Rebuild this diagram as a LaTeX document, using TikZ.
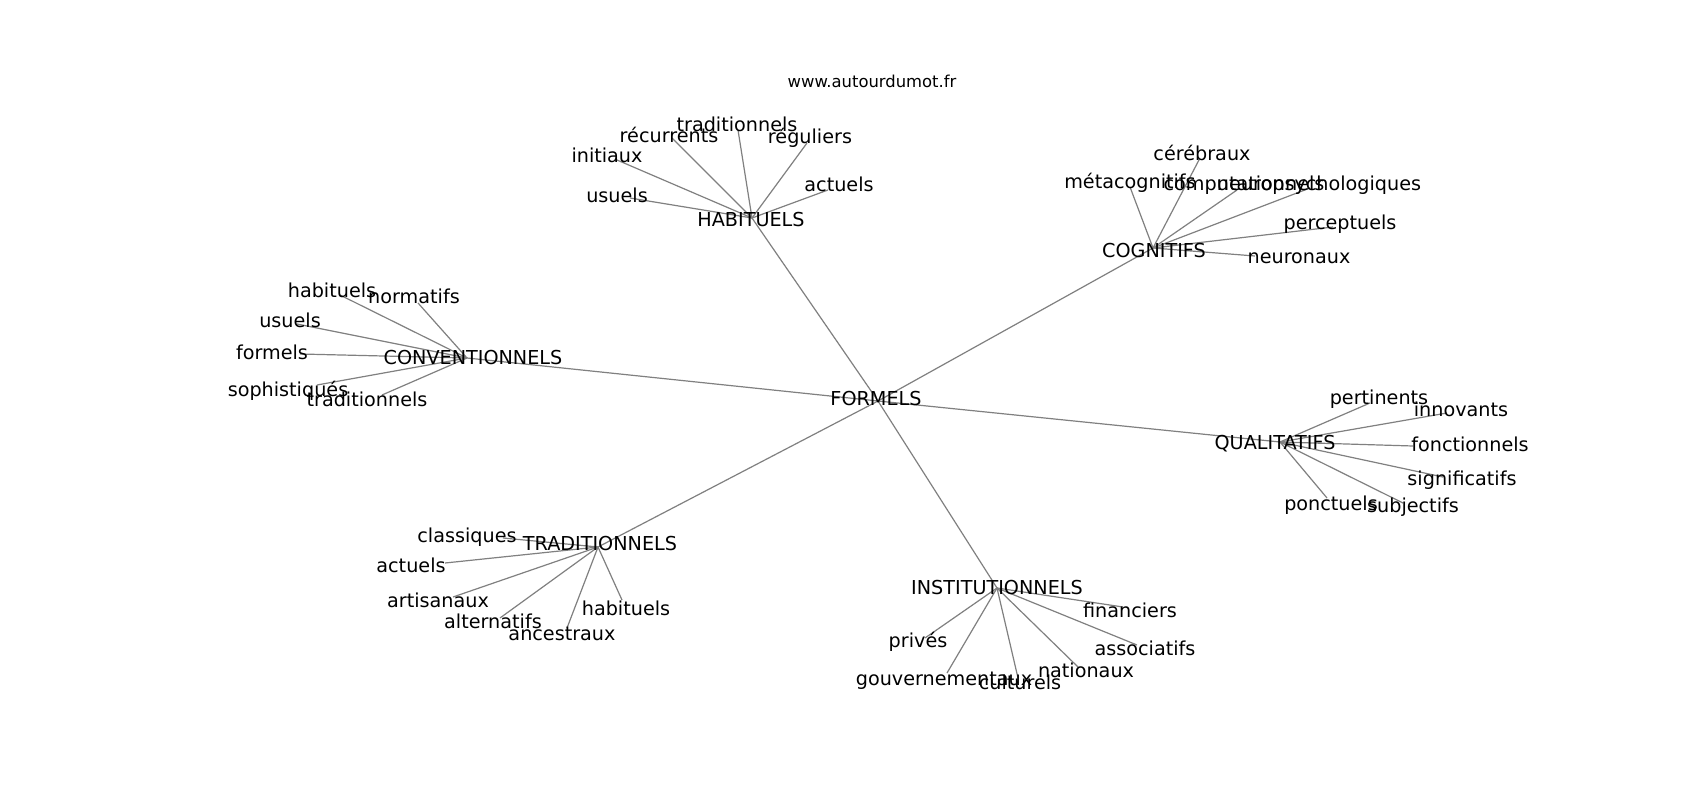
\documentclass[tikz,border=0pt]{standalone}
\usepackage{fontspec}
\setmainfont{DejaVu Sans}
\begin{document}
\begin{tikzpicture}[x=1pt,y=-1pt,
  lbl/.style={anchor=base,inner sep=0pt,font=\fontsize{19.2}{20}\selectfont,text=black},
  ttl/.style={anchor=base,inner sep=0pt,font=\fontsize{16.4}{18}\selectfont,text=black},
  edge/.style={draw=gray,line width=1.2pt}]
\useasboundingbox[fill=white] (0,0) rectangle (1700,800);
% hub points
\coordinate (F) at (878,401);
\coordinate (H) at (752,218);
\coordinate (C) at (1153,248);
\coordinate (V) at (467,358);
\coordinate (Q) at (1280,442);
\coordinate (T) at (598,547);
\coordinate (I) at (997,588);
% leaf points: HABITUELS
\coordinate (h1) at (630,198);
\coordinate (h2) at (617,160);
\coordinate (h3) at (672,138);
\coordinate (h4) at (738,130);
\coordinate (h5) at (807,143);
\coordinate (h6) at (828,190);
% COGNITIFS
\coordinate (c1) at (1200,158);
\coordinate (c2) at (1130,187);
\coordinate (c3) at (1237,190);
\coordinate (c4) at (1310,188);
\coordinate (c5) at (1333,227);
\coordinate (c6) at (1255,256);
% CONVENTIONNELS
\coordinate (v1) at (340,295);
\coordinate (v2) at (418,303);
\coordinate (v3) at (297,324);
\coordinate (v4) at (300,354);
\coordinate (v5) at (317,385);
\coordinate (v6) at (382,395);
% QUALITATIFS
\coordinate (q1) at (1370,403);
\coordinate (q2) at (1447,413);
\coordinate (q3) at (1413,446);
\coordinate (q4) at (1443,477);
\coordinate (q5) at (1327,498);
\coordinate (q6) at (1403,503);
% TRADITIONNELS
\coordinate (t1) at (503,538);
\coordinate (t2) at (445,563);
\coordinate (t3) at (453,597);
\coordinate (t4) at (500,618);
\coordinate (t5) at (567,628);
\coordinate (t6) at (622,600);
% INSTITUTIONNELS
\coordinate (i1) at (1123,607);
\coordinate (i2) at (925,638);
\coordinate (i3) at (1137,645);
\coordinate (i4) at (947,673);
\coordinate (i5) at (1018,678);
\coordinate (i6) at (1078,667);
% edges
\foreach \h in {H,C,V,Q,T,I} \draw[edge] (F) -- (\h);
\foreach \l in {h1,h2,h3,h4,h5,h6} \draw[edge] (H) -- (\l);
\foreach \l in {c1,c2,c3,c4,c5,c6} \draw[edge] (C) -- (\l);
\foreach \l in {v1,v2,v3,v4,v5,v6} \draw[edge] (V) -- (\l);
\foreach \l in {q1,q2,q3,q4,q5,q6} \draw[edge] (Q) -- (\l);
\foreach \l in {t1,t2,t3,t4,t5,t6} \draw[edge] (T) -- (\l);
\foreach \l in {i1,i2,i3,i4,i5,i6} \draw[edge] (I) -- (\l);
% title
\node[ttl] (title) at (872,88) {www.autourdumot.fr};
% hub labels
\node[lbl] (lF) at (876,405) {FORMELS};
\node[lbl] (lH) at (751,226) {HABITUELS};
\node[lbl] (lC) at (1154,257) {COGNITIFS};
\node[lbl] (lV) at (473,364) {CONVENTIONNELS};
\node[lbl] (lQ) at (1275,449) {QUALITATIFS};
\node[lbl] (lT) at (600,550) {TRADITIONNELS};
\node[lbl] (lI) at (997,594) {INSTITUTIONNELS};
% HABITUELS leaves
\node[lbl] (lh1) at (617,202) {usuels};
\node[lbl] (lh2) at (607,162) {initiaux};
\node[lbl] (lh3) at (669,142) {récurrents};
\node[lbl] (lh4) at (737,131) {traditionnels};
\node[lbl] (lh5) at (810,143) {réguliers};
\node[lbl] (lh6) at (839,191) {actuels};
% COGNITIFS leaves
\node[lbl] (lc1) at (1202,160) {cérébraux};
\node[lbl] (lc2) at (1130,188) {métacognitifs};
\node[lbl] (lc3) at (1244,190) {computationnels};
\node[lbl] (lc4) at (1319,190) {neuropsychologiques};
\node[lbl] (lc5) at (1340,229) {perceptuels};
\node[lbl] (lc6) at (1299,263) {neuronaux};
% CONVENTIONNELS leaves
\node[lbl] (lv1) at (332,297) {habituels};
\node[lbl] (lv2) at (414,303) {normatifs};
\node[lbl] (lv3) at (290,327) {usuels};
\node[lbl] (lv4) at (272,359) {formels};
\node[lbl] (lv5) at (288,396) {sophistiqués};
\node[lbl] (lv6) at (367,406) {traditionnels};
% QUALITATIFS leaves
\node[lbl] (lq1) at (1379,404) {pertinents};
\node[lbl] (lq2) at (1461,416) {innovants};
\node[lbl] (lq3) at (1470,451) {fonctionnels};
\node[lbl] (lq4) at (1462,485) {significatifs};
\node[lbl] (lq5) at (1331,510) {ponctuels};
\node[lbl] (lq6) at (1413,512) {subjectifs};
% TRADITIONNELS leaves
\node[lbl] (lt1) at (467,542) {classiques};
\node[lbl] (lt2) at (411,572) {actuels};
\node[lbl] (lt3) at (438,607) {artisanaux};
\node[lbl] (lt4) at (493,628) {alternatifs};
\node[lbl] (lt5) at (562,640) {ancestraux};
\node[lbl] (lt6) at (626,615) {habituels};
% INSTITUTIONNELS leaves
\node[lbl] (li1) at (1130,617) {financiers};
\node[lbl] (li2) at (918,647) {privés};
\node[lbl] (li3) at (1145,655) {associatifs};
\node[lbl] (li4) at (944,685) {gouvernementaux};
\node[lbl] (li5) at (1020,689) {culturels};
\node[lbl] (li6) at (1086,677) {nationaux};
\end{tikzpicture}
\end{document}
